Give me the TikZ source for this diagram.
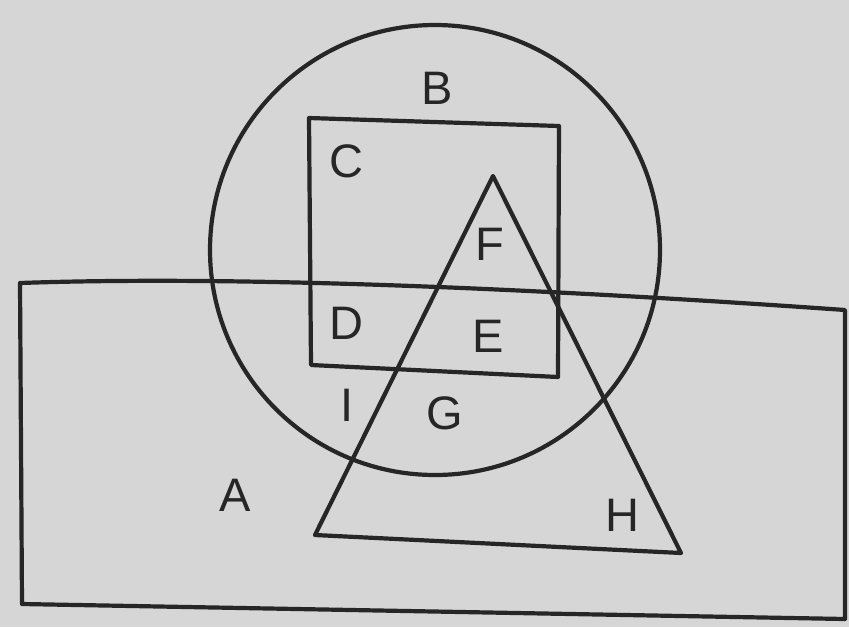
\documentclass[tikz,border=0pt]{standalone}
\usepackage{fontspec}
\setmainfont{Liberation Sans}
\begin{document}
\begin{tikzpicture}[x=1pt,y=-1pt,
  shape line/.style={draw=black!85,line width=4.2pt,line join=round},
  lbl/.style={font=\fontsize{47}{47}\selectfont,text=black!85,inner sep=0pt}]
\fill[gray!32] (0,0) rectangle (849,627);
\useasboundingbox (0,0) rectangle (849,627);
% A: large rectangle
\draw[shape line] (20,283) .. controls (250,275) and (560,290) .. (845,310) -- (845,619) -- (22,604) -- cycle;
% B: circle
\draw[shape line] (435,250) circle[radius=225];
% square
\draw[shape line] (309,118) -- (559,126) -- (558,377) -- (311,365) -- cycle;
% triangle
\draw[shape line] (493,176) -- (681,553) -- (315,535) -- cycle;
% labels
\node[lbl] (B) at (437,88) {B};
\node[lbl] (C) at (346,161) {C};
\node[lbl] (F) at (490,244) {F};
\node[lbl] (D) at (346,323) {D};
\node[lbl] (E) at (488,336) {E};
\node[lbl] (I) at (347,405) {I};
\node[lbl] (G) at (445,413) {G};
\node[lbl] (A) at (235,495) {A};
\node[lbl] (H) at (622,515) {H};
\end{tikzpicture}
\end{document}
